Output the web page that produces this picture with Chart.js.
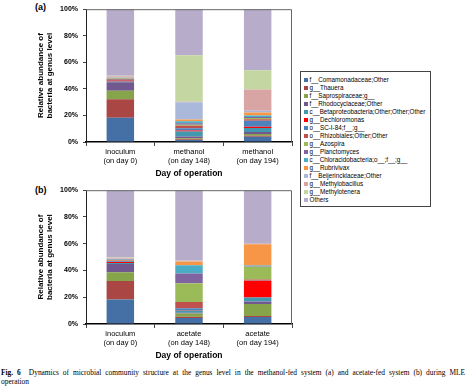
<!DOCTYPE html>
<html>
<head>
<meta charset="utf-8">
<script src="https://cdn.jsdelivr.net/npm/chart.js@4.4.1/dist/chart.umd.min.js"></script>
<style>
    body { margin: 0; background: #fff; width: 466px; height: 389px; overflow: hidden; position: relative; font-family: "Liberation Sans", Arial, sans-serif; }
    canvas { position: absolute; left: 0; }
    #chartA { top: 0; }
    #chartB { top: 181px; }
    .panel { position: absolute; font: bold 9px "Liberation Sans", Arial, sans-serif; color: #000; }
    #legend { position: absolute; left: 300px; top: 71px; width: 131px; height: 136px; border: 1.5px solid #444; box-sizing: border-box; padding-top: 4px; }
    #legend div { height: 8px; line-height: 8px; font-size: 6.3px; color: #000; white-space: nowrap; padding-left: 3px; }
    #legend span { display: inline-block; width: 4px; height: 4px; margin-right: 1.5px; vertical-align: 0px; }
    .caption { position: absolute; left: 1px; width: 464px; font: 7.4px "Liberation Serif", "Times New Roman", serif; color: #000; white-space: nowrap; }
</style>
</head>
<body>
<div class="panel" style="left:35px; top:2px;">(a)</div>
<div class="panel" style="left:35px; top:185px;">(b)</div>
<canvas id="chartA" width="300" height="181"></canvas>
<canvas id="chartB" width="300" height="182"></canvas>
<div id="legend"></div>
<div class="caption" style="top:368px; text-align:justify; text-align-last:justify; white-space:normal;"><b>Fig. 6</b>&nbsp; Dynamics of microbial community structure at the genus level in the methanol-fed system (a) and acetate-fed system (b) during MLE</div>
<div class="caption" style="top:376.5px;">operation</div>
<script>
const seriesNames = [
    'f__Comamonadaceae;Other', 'g__Thauera', 'f__Saprospiraceae;g__', 'f__Rhodocyclaceae;Other',
    'c__Betaproteobacteria;Other;Other;Other', 'g__Dechloromonas', 'o__SC-I-84;f__;g__',
    'o__Rhizobiales;Other;Other', 'g__Azospira', 'g__Planctomyces',
    'c__Chloracidobacteria;o__;f__;g__', 'g__Rubrivivax', 'f__Beijerinckiaceae;Other',
    'g__Methylobacillus', 'g__Methylotenera', 'Others'
];
const seriesColors = [
    '#4470A5', '#AA4643', '#86A44A', '#71588F', '#4198AF', '#FF0000', '#4F81BD', '#C0504D',
    '#9BBB59', '#8064A2', '#4BACC6', '#F79646', '#AAB9DA', '#D9A5A4', '#C4D7A3', '#B7ACCA'
];

const categoriesA = [['inoculum', '(on day 0)'], ['methanol', '(on day 148)'], ['methanol', '(on day 194)']];
const categoriesB = [['inoculum', '(on day 0)'], ['acetate', '(on day 148)'], ['acetate', '(on day 194)']];

// percent per series, bottom to top, one array per sample
const inoculum = [18.3, 13.8, 6.5, 6.3, 0.7, 0.8, 0.5, 0.6, 0.3, 0.3, 0.2, 0.2, 0.3, 0.8, 0.2, 50.2];
const methanolDay148 = [1.5, 0.6, 0.8, 1.3, 3.8, 0.7, 1.6, 2.0, 0.7, 1.2, 1.4, 1.4, 13.0, 0.4, 35.0, 34.6];
const methanolDay194 = [4.0, 0.8, 1.2, 1.5, 3.0, 1.0, 4.5, 1.2, 0.8, 0.8, 1.2, 2.2, 1.3, 16.0, 14.6, 45.9];
const acetateDay148 = [4.5, 1.0, 2.3, 0.7, 1.5, 0.4, 1.3, 4.8, 13.9, 7.4, 6.2, 2.8, 0.5, 0.3, 0, 52.4];
const acetateDay194 = [5.2, 0.8, 9.0, 1.8, 3.0, 12.5, 0.3, 0.7, 9.5, 0.3, 0.7, 15.8, 0.2, 0.2, 0, 40.0];

const yTicks = [0, 20, 40, 60, 80, 100];

const fontFamily = '"Liberation Sans", Arial, sans-serif';

// top and right edge of the plot box
const boxPlugin = {
    id: 'box',
    afterDraw(chart) {
        const { ctx, chartArea: a } = chart;
        ctx.save();
        ctx.strokeStyle = '#666';
        ctx.lineWidth = 1;
        ctx.beginPath();
        ctx.moveTo(a.left, a.top + 0.5);
        ctx.lineTo(a.right - 0.5, a.top + 0.5);
        ctx.lineTo(a.right - 0.5, a.bottom);
        ctx.stroke();
        ctx.restore();
    }
};

function makeChart(id, labels, columns, xHeight) {
    const datasets = seriesNames.map((name, i) => ({
        label: name,
        data: columns.map(col => col[i]),
        backgroundColor: seriesColors[i],
        borderWidth: 0,
        barPercentage: 0.4,
        categoryPercentage: 1
    }));
    return new Chart(document.getElementById(id), {
        type: 'bar',
        data: { labels: labels, datasets: datasets },
        plugins: [boxPlugin],
        options: {
            responsive: false,
            animation: false,
            devicePixelRatio: 1,
            layout: { padding: { top: 9, right: 8, left: 0, bottom: 0 } },
            plugins: { legend: { display: false }, tooltip: { enabled: false } },
            scales: {
                x: {
                    stacked: true,
                    afterFit: s => { s.height = xHeight; },
                    border: { color: '#000', width: 1.5 },
                    grid: { drawOnChartArea: false, tickLength: 4, color: '#444', offset: true },
                    ticks: { color: '#000', padding: 1, font: { family: fontFamily, size: 7.5, lineHeight: 1.2 } },
                    title: { display: true, text: 'Day of operation', color: '#000', padding: { top: 0, bottom: 2 },
                        font: { family: fontFamily, size: 8.5, weight: 'bold', lineHeight: 1.2 } }
                },
                y: {
                    stacked: true,
                    min: 0,
                    max: 100,
                    afterFit: s => { s.width = 86; },
                    afterBuildTicks: s => { s.ticks = yTicks.map(v => ({ value: v })); },
                    border: { color: '#222', width: 1 },
                    grid: { drawOnChartArea: false, tickLength: 3, color: '#444' },
                    ticks: { color: '#000', padding: 5, callback: v => v + '%',
                        font: { family: fontFamily, size: 7, weight: 'bold' } },
                    title: { display: true, text: ['Relative abundance of', 'bacteria at genus level'], color: '#000',
                        padding: { top: 35.7, bottom: 0 },
                        font: { family: fontFamily, size: 8, weight: 'bold', lineHeight: 1.2 } }
                }
            }
        }
    });
}

makeChart('chartA', categoriesA, [inoculum, methanolDay148, methanolDay194], 39);
makeChart('chartB', categoriesB, [inoculum, acetateDay148, acetateDay194], 39);

// legend box, built from the same series arrays
const legend = document.getElementById('legend');
seriesNames.forEach((name, i) => {
    const row = document.createElement('div');
    const sw = document.createElement('span');
    sw.style.background = seriesColors[i];
    row.appendChild(sw);
    row.appendChild(document.createTextNode(name));
    legend.appendChild(row);
});
</script>
</body>
</html>
